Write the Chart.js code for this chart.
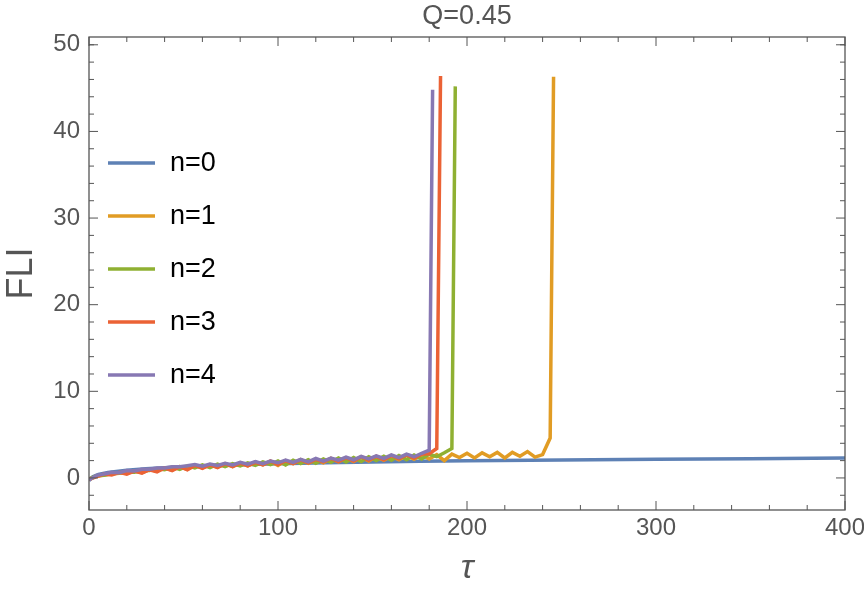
<!DOCTYPE html>
<html>
<head>
<meta charset="utf-8">
<title>FLI Q=0.45</title>
<script src="https://cdn.jsdelivr.net/npm/chart.js@4.4.1/dist/chart.umd.min.js"></script>
<style>
    html, body { margin: 0; padding: 0; background: #fff; }
    #wrap { width: 864px; height: 592px; position: relative; }
</style>
</head>
<body>
<div id="wrap"><canvas id="fliChart"></canvas></div>
<script>

var chartTitle = "Q=0.45";
var seriesLabels = ["n=0", "n=1", "n=2", "n=3", "n=4"];
var seriesColors = ["#5E81B5", "#E19C24", "#8FB032", "#EB6235", "#8778B3"];

// n=0 : smooth curve
var tau0 = [0, 2, 5, 10, 20, 30, 40, 60, 80, 100, 125, 150, 175, 200, 250, 300, 350, 400];
var fli0 = [-0.3, 0.15, 0.4, 0.62, 0.88, 1.05, 1.18, 1.38, 1.53, 1.65, 1.76, 1.85, 1.92, 1.98, 2.08, 2.16, 2.23, 2.3];

// shared sample times of the noisy runs
var tauN = [0, 4, 8, 12, 16, 20, 24, 28, 32, 36,
            40, 44, 48, 52, 56, 60, 64, 68, 72, 76,
            80, 84, 88, 92, 96, 100, 104, 108, 112, 116,
            120, 124, 128, 132, 136, 140, 144, 148, 152, 156,
            160, 164, 168, 172, 176, 180, 184, 188, 192, 196,
            200, 204, 208, 212, 216, 220, 224, 228, 232, 236,
            240];

var fli1 = [-0.2, 0.2, 0.35, 0.45, 0.55, 0.6, 0.8, 0.6, 0.95, 0.8,
            1.15, 0.9, 1.3, 1.0, 1.45, 1.15, 1.55, 1.25, 1.65, 1.3,
            1.75, 1.4, 1.85, 1.5, 1.9, 1.45, 2.0, 1.65, 2.1, 1.7,
            2.15, 1.75, 2.25, 1.85, 2.3, 1.9, 2.4, 1.95, 2.45, 2.05,
            2.5, 2.1, 2.6, 2.15, 2.65, 2.2, 2.7, 2.0, 2.75, 2.35,
            2.85, 2.3, 2.9, 2.45, 2.95, 2.3, 2.95, 2.5, 3.05, 2.4,
            2.7];
var fli2 = [-0.1, 0.25, 0.3, 0.5, 0.6, 0.7, 0.65, 0.9, 0.85, 1.05,
            0.95, 1.25, 1.0, 1.4, 1.15, 1.5, 1.2, 1.6, 1.3, 1.65,
            1.4, 1.75, 1.45, 1.85, 1.55, 1.95, 1.5, 2.05, 1.65, 2.1,
            1.7, 2.2, 1.8, 2.3, 1.85, 2.35, 1.9, 2.45, 2.0, 2.5,
            2.05, 2.6, 2.1, 2.65, 2.2, 2.75, 2.45, 2.9];
var fli3 = [-0.15, 0.15, 0.45, 0.35, 0.65, 0.45, 0.8, 0.55, 0.95, 0.7,
            1.15, 0.85, 1.3, 0.95, 1.45, 1.1, 1.5, 1.2, 1.65, 1.3,
            1.7, 1.4, 1.8, 1.5, 1.95, 1.55, 2.0, 1.65, 2.1, 1.75,
            2.15, 1.85, 2.25, 1.9, 2.35, 1.95, 2.45, 2.05, 2.5, 2.1,
            2.6, 2.2, 2.65, 2.3, 2.75, 2.8];
var fli4 = [-0.25, 0.3, 0.45, 0.65, 0.6, 0.85, 0.8, 1.0, 1.0, 1.15,
            1.15, 1.3, 1.3, 1.4, 1.55, 1.35, 1.6, 1.45, 1.7, 1.5,
            1.8, 1.6, 1.9, 1.65, 1.95, 1.75, 2.05, 1.8, 2.15, 1.85,
            2.25, 1.95, 2.3, 2.05, 2.4, 2.1, 2.5, 2.2, 2.55, 2.25,
            2.65, 2.35, 2.75, 2.45, 2.85];

// last points of each run: jump up to the blow-up value
var tailTau1 = [244, 245.8], tailFli1 = [4.6, 46.3];
var tailTau2 = [192, 193.8], tailFli2 = [3.4, 45.2];
var tailTau3 = [184, 186],   tailFli3 = [3.4, 46.4];
var tailTau4 = [180, 181.8], tailFli4 = [3.2, 44.8];

var xTicks = [0, 100, 200, 300, 400];
var xMinorTicks = [20, 40, 60, 80, 120, 140, 160, 180, 220, 240, 260, 280, 320, 340, 360, 380];
var yTicks = [0, 10, 20, 30, 40, 50];
var yMinorTicks = [-2, 2, 4, 6, 8, 12, 14, 16, 18, 22, 24, 26, 28, 32, 34, 36, 38, 42, 44, 46, 48, 50];

var FONT = '"Liberation Sans", Arial, sans-serif';

function toPoints(xs, ys) {
    var pts = [];
    for (var i = 0; i < ys.length; i++) {
        pts.push({ x: xs[i], y: ys[i] });
    }
    return pts;
}

function noisyRun(values, tailTau, tailFli) {
    return toPoints(tauN, values).concat(toPoints(tailTau, tailFli));
}

var runs = [
    toPoints(tau0, fli0),
    noisyRun(fli1, tailTau1, tailFli1),
    noisyRun(fli2, tailTau2, tailFli2),
    noisyRun(fli3, tailTau3, tailFli3),
    noisyRun(fli4, tailTau4, tailFli4)
];

// Mathematica-like frame with inward ticks on every side
var frameTicks = {
    id: 'frameTicks',
    afterDraw: function (chart) {
        var ctx = chart.ctx, a = chart.chartArea;
        var xs = chart.scales.x, ys = chart.scales.y;
        function seg(x1, y1, x2, y2) {
            ctx.beginPath(); ctx.moveTo(x1, y1); ctx.lineTo(x2, y2); ctx.stroke();
        }
        ctx.save();
        ctx.strokeStyle = '#555';
        ctx.lineWidth = 1.3;
        ctx.strokeRect(a.left, a.top, a.right - a.left, a.bottom - a.top);
        ctx.lineWidth = 1;
        xTicks.forEach(function (v) {
            var p = xs.getPixelForValue(v);
            seg(p, a.bottom, p, a.bottom - 9); seg(p, a.top, p, a.top + 9);
        });
        xMinorTicks.forEach(function (v) {
            var p = xs.getPixelForValue(v);
            seg(p, a.bottom, p, a.bottom - 5); seg(p, a.top, p, a.top + 5);
        });
        yTicks.forEach(function (v) {
            var p = ys.getPixelForValue(v);
            seg(a.left, p, a.left + 9, p); seg(a.right, p, a.right - 9, p);
        });
        yMinorTicks.forEach(function (v) {
            var p = ys.getPixelForValue(v);
            seg(a.left, p, a.left + 5, p); seg(a.right, p, a.right - 5, p);
        });
        ctx.restore();
    }
};

var plotTitle = {
    id: 'plotTitle',
    afterDraw: function (chart) {
        var ctx = chart.ctx, a = chart.chartArea;
        ctx.save();
        ctx.font = '27px ' + FONT;
        ctx.fillStyle = '#555';
        ctx.textAlign = 'center';
        ctx.textBaseline = 'middle';
        ctx.fillText(chartTitle, (a.left + a.right) / 2, 17);
        ctx.restore();
    }
};

var insideLegend = {
    id: 'insideLegend',
    afterDraw: function (chart) {
        var ctx = chart.ctx;
        ctx.save();
        ctx.font = '27px ' + FONT;
        ctx.textBaseline = 'middle';
        chart.data.datasets.forEach(function (ds, i) {
            var y = 163 + i * 53;
            ctx.strokeStyle = ds.borderColor;
            ctx.lineWidth = 3.5;
            ctx.beginPath(); ctx.moveTo(108, y); ctx.lineTo(155, y); ctx.stroke();
            ctx.fillStyle = '#000';
            ctx.fillText(ds.label, 170, y + 1);
        });
        ctx.restore();
    }
};

(function () {
    var ctx = document.getElementById('fliChart');
    new Chart(ctx, {
        type: 'line',
        data: {
            datasets: runs.map(function (pts, i) {
                return {
                    label: seriesLabels[i],
                    data: pts,
                    borderColor: seriesColors[i],
                    backgroundColor: seriesColors[i],
                    borderWidth: 3.5,
                    pointRadius: 0,
                    tension: 0,
                    fill: false,
                    order: seriesLabels.length - i
                };
            })
        },
        options: {
            responsive: true,
            maintainAspectRatio: false,
            animation: false,
            layout: { padding: { top: 37, right: 19, left: 0, bottom: 0 } },
            plugins: {
                legend: { display: false },
                title: { display: false },
                tooltip: { enabled: false }
            },
            scales: {
                x: {
                    type: 'linear',
                    min: 0,
                    max: 400,
                    afterFit: function (scale) {
                        scale.height = 82;
                        scale.paddingLeft = 0;
                        scale.paddingRight = 0;
                    },
                    afterBuildTicks: function (scale) {
                        scale.ticks = xTicks.map(function (v) { return { value: v }; });
                    },
                    grid: { display: false, drawTicks: false },
                    border: { display: false },
                    ticks: { color: '#555', font: { size: 24, family: FONT }, padding: 4, maxRotation: 0 },
                    title: {
                        display: true,
                        text: 'τ',
                        color: '#555',
                        font: { size: 34, style: 'italic', family: FONT },
                        padding: { top: 0, bottom: 3 }
                    }
                },
                y: {
                    type: 'linear',
                    min: -3.7,
                    max: 50.9,
                    afterFit: function (scale) {
                        scale.width = 89;
                        scale.paddingTop = 0;
                        scale.paddingBottom = 0;
                    },
                    afterBuildTicks: function (scale) {
                        scale.ticks = yTicks.map(function (v) { return { value: v }; });
                    },
                    grid: { display: false, drawTicks: false },
                    border: { display: false },
                    ticks: { color: '#555', font: { size: 24, family: FONT }, padding: 9 },
                    title: {
                        display: true,
                        text: 'FLI',
                        color: '#555',
                        font: { size: 36, family: FONT },
                        padding: { top: 0, bottom: 0 }
                    }
                }
            }
        },
        plugins: [frameTicks, plotTitle, insideLegend]
    });
})();

</script>
</body>
</html>
